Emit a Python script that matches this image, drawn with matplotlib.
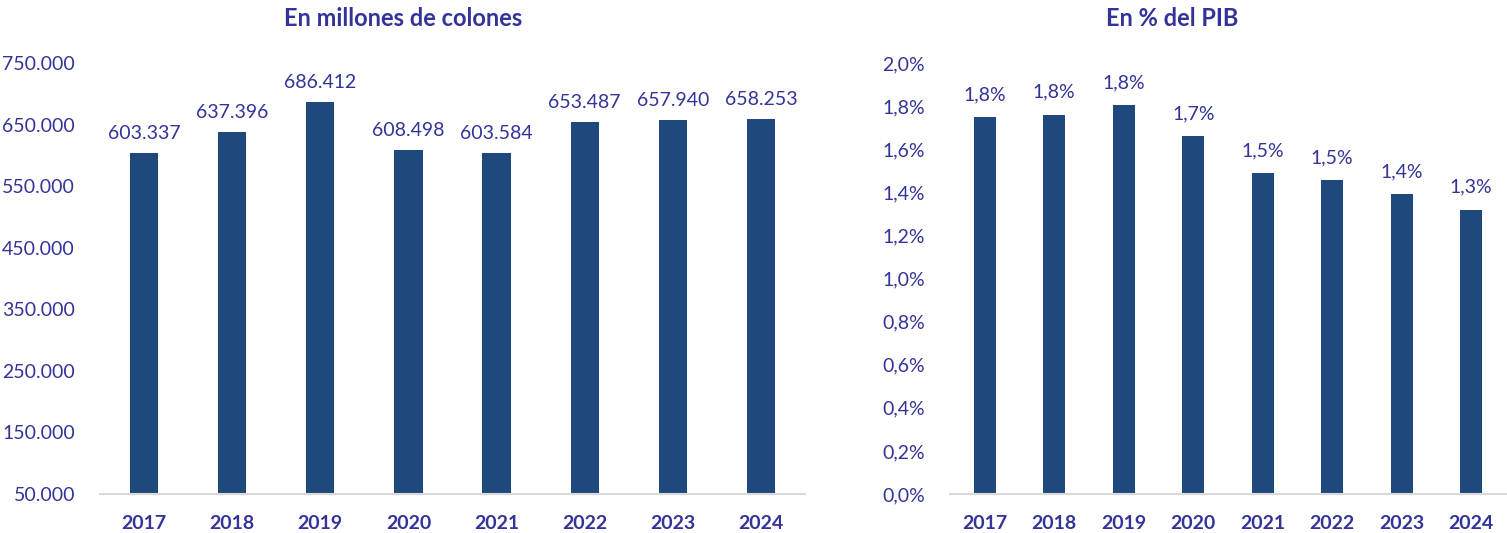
import matplotlib.pyplot as plt
import numpy as np

plt.rcParams['font.family'] = ['Lato', 'DejaVu Sans']

years = ["2017", "2018", "2019", "2020", "2021", "2022", "2023", "2024"]
colones = [603337, 637396, 686412, 608498, 603584, 653487, 657940, 658253]
pib_pct = [1.75, 1.76, 1.805, 1.66, 1.49, 1.455, 1.39, 1.32]
pib_labels = ["1,8%", "1,8%", "1,8%", "1,7%", "1,5%", "1,5%", "1,4%", "1,3%"]

BAR = "#1F497D"
TXT = "#33339A"
AXIS = "#D9D9D9"


def fmt_miles(v):
    return f"{v:,.0f}".replace(",", ".")


def style_axis(ax):
    for s in ["left", "right", "top"]:
        ax.spines[s].set_visible(False)
    ax.spines["bottom"].set_color(AXIS)
    ax.spines["bottom"].set_linewidth(1.5)
    ax.tick_params(axis="both", length=0, colors=TXT, labelsize=14)
    ax.tick_params(axis="x", pad=15)
    for lab in ax.get_xticklabels():
        lab.set_fontweight("bold")
    ax.set_xlim(-0.5, len(years) - 0.5)


fig = plt.figure(figsize=(15.07, 5.33), dpi=100)
ax1 = fig.add_axes([100 / 1507, 39 / 533, 705 / 1507, 431 / 533])
ax2 = fig.add_axes([950 / 1507, 39 / 533, 556 / 1507, 431 / 533])

x = np.arange(len(years))

# left: millones de colones
ax1.bar(x, colones, width=0.32, color=BAR, bottom=0)
ax1.set_ylim(50000, 750000)
yt = np.arange(50000, 750001, 100000)
ax1.set_yticks(yt)
ax1.set_yticklabels([fmt_miles(v) for v in yt])
ax1.set_xticks(x)
ax1.set_xticklabels(years)
ax1.tick_params(axis="y", pad=18)
style_axis(ax1)
for xi, v in zip(x, colones):
    ax1.annotate(fmt_miles(v), (xi, v), xytext=(0, 8), textcoords="offset points",
                 ha="center", va="bottom", color=TXT, fontsize=14)
ax1.set_title("En millones de colones", color=TXT, fontsize=17, fontweight="bold",
              pad=27, x=0.43)

# right: % del PIB
ax2.bar(x, pib_pct, width=0.32, color=BAR)
ax2.set_ylim(0, 2.0)
yt2 = np.arange(0, 2.01, 0.2)
ax2.set_yticks(yt2)
ax2.set_yticklabels([f"{v:.1f}%".replace(".", ",") for v in yt2])
ax2.set_xticks(x)
ax2.set_xticklabels(years)
ax2.tick_params(axis="y", pad=18)
style_axis(ax2)
for xi, v, lab in zip(x, pib_pct, pib_labels):
    ax2.annotate(lab, (xi, v), xytext=(0, 10), textcoords="offset points",
                 ha="center", va="bottom", color=TXT, fontsize=14)
ax2.set_title("En % del PIB", color=TXT, fontsize=17, fontweight="bold",
              pad=27, x=0.40)

fig.savefig("out.png", dpi=100)
